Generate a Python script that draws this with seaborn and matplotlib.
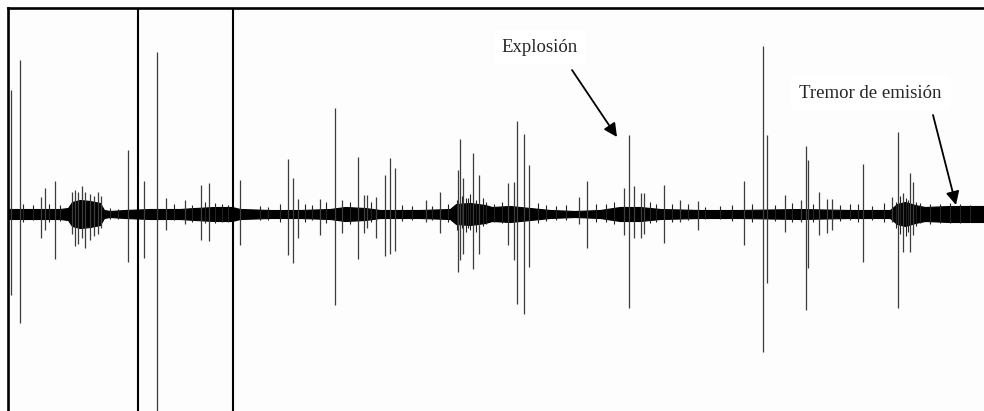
import numpy as np
import matplotlib
matplotlib.use("Agg")
from matplotlib import pyplot as plt
import seaborn as sns

# big events: time (px-like units), amplitude above / below the baseline
spike_t = [11, 20, 41, 45, 55, 72, 75, 78, 82, 85, 90, 94, 98, 101,
           128, 138, 144, 157, 166, 185, 201, 209, 233, 240,
           288, 293, 298, 320, 335, 342, 358, 364, 367, 376, 385, 390, 395,
           426, 440, 458, 460, 463, 473, 479, 508, 514, 517, 524, 529,
           579, 587, 624, 629, 634, 641, 644, 664, 680, 698,
           744, 763, 767, 785, 801, 806, 808, 819, 827, 832, 863,
           892, 898, 903, 910, 913]
spike_up = [124, 154, 17, 26, 33, 22, 24, 22, 28, 22, 20, 18, 22, 18,
            64, 260, 33, 162, 16, 14, 29, 31, 260, 34,
            55, 36, 15, 15, 106, 14, 57, 19, 19, 17, 39, 56, 46,
            14, 22, 44, 75, 36, 61, 39, 31, 32, 93, 80, 49,
            17, 33, 26, 79, 28, 21, 21, 29, 14, 13,
            33, 168, 79, 19, 14, 68, 54, 22, 15, 15, 50,
            17, 82, 21, 41, 32]
spike_down = [81, 109, 24, 16, 45, 20, 32, 30, 24, 34, 26, 22, 20, 14,
              48, 260, 44, 260, 16, 10, 26, 27, 260, 31,
              41, 49, 24, 21, 91, 19, 45, 19, 14, 24, 42, 40, 37,
              8, 19, 58, 46, 40, 55, 40, 31, 46, 90, 100, 53,
              10, 34, 21, 94, 24, 24, 20, 29, 8, 16,
              31, 138, 69, 18, 8, 96, 54, 21, 19, 16, 48,
              8, 94, 38, 38, 21]
full_scale = [138, 233]

# small ripples on the trace
minor_t = [23, 33, 49, 60, 110, 118, 174, 192, 205, 215, 222, 228, 260, 268,
           280, 305, 312, 326, 350, 371, 402, 412, 432, 448, 457, 462, 466,
           468, 470, 476, 483, 486, 494, 502, 538, 546, 556, 566, 596, 606,
           614, 650, 656, 672, 688, 705, 720, 732, 752, 775, 792, 813, 840,
           850, 858, 872, 884, 896, 900, 906, 908, 916, 920, 930, 940, 950,
           960, 970]
minor_up = [10, 9, 10, 9, 6, 5, 10, 9, 12, 11, 10, 9, 8, 7,
            10, 10, 9, 12, 12, 12, 9, 8, 8, 10, 14, 18, 16,
            16, 20, 14, 16, 12, 10, 12, 11, 9, 8, 9, 10, 10,
            12, 12, 10, 10, 10, 7, 8, 9, 10, 9, 11, 10, 9,
            10, 10, 8, 11, 12, 18, 16, 14, 12, 11, 10, 10, 11,
            10, 9]
minor_down = [8, 6, 8, 7, 5, 5, 6, 8, 9, 9, 8, 8, 6, 6,
              8, 8, 6, 9, 10, 8, 7, 6, 6, 8, 16, 14, 18,
              14, 16, 18, 12, 10, 8, 9, 9, 7, 6, 6, 8, 8,
              10, 9, 8, 8, 6, 5, 5, 7, 8, 7, 8, 8, 7,
              6, 8, 6, 8, 14, 20, 22, 18, 12, 9, 10, 9, 9,
              9, 8]

# background noise envelope
env_t = [8, 30, 60, 68, 72, 80, 90, 100, 104, 110, 125, 150, 180, 195, 215,
         232, 240, 270, 300, 330, 345, 365, 380, 420, 450, 456, 470, 485, 492,
         510, 530, 550, 575, 600, 620, 640, 660, 700, 740, 800, 850, 890, 897,
         905, 915, 925, 950, 984]
env_amp = [5, 5, 5, 6, 12, 14, 13, 11, 4, 3, 4, 5, 5, 6, 7,
           7, 5, 4, 4, 5, 7, 6, 4, 4, 5, 10, 11, 9, 7,
           8, 6, 4, 3, 4, 7, 7, 5, 4, 4, 5, 4, 4, 10,
           12, 9, 7, 8, 8]

sns.set_theme(style="white")
plt.rcParams["font.family"] = ["Liberation Serif", "DejaVu Serif"]

fig = plt.figure(figsize=(9.84, 4.11), dpi=100)
fig.patch.set_facecolor("#fdfdfd")
ax = fig.add_axes([8 / 984, 0, 976 / 984, 403 / 411])
ax.set_facecolor("#fdfdfd")

env_amp = np.array(env_amp)
ax.fill_between(env_t, -env_amp, env_amp, color="black", lw=0.8)

ax.vlines(minor_t, -np.array(minor_down), minor_up, color="#222222", lw=0.8)

regular = [i for i, t in enumerate(spike_t) if t not in full_scale]
ax.vlines([spike_t[i] for i in regular], [-spike_down[i] for i in regular],
          [spike_up[i] for i in regular], color="#3c3c3c", lw=0.9)
ax.vlines(full_scale, -260, 260, color="black", lw=1.5)

ax.set_xlim(8, 984)
ax.set_ylim(-197, 206)
ax.set_xticks([])
ax.set_yticks([])

sns.despine(ax=ax, top=False, right=True, left=False, bottom=True)
for side in ["top", "left"]:
    ax.spines[side].set_color("black")
    ax.spines[side].set_linewidth(1.9)

arrow = dict(arrowstyle="-|>", color="black", lw=1.3, mutation_scale=20,
             shrinkA=0, shrinkB=0)
ax.text(540, 167, "Explosión", fontsize=13.5, ha="center", va="center",
        bbox=dict(facecolor="white", edgecolor="none", pad=6))
ax.annotate("", xy=(617, 77), xytext=(572, 144), arrowprops=arrow)
ax.text(870, 121, "Tremor de emisión", fontsize=13.5, ha="center", va="center",
        bbox=dict(facecolor="white", edgecolor="none", pad=6))
ax.annotate("", xy=(956, 9), xytext=(933, 99), arrowprops=arrow)

fig.savefig("out.png", dpi=100, facecolor=fig.get_facecolor())
